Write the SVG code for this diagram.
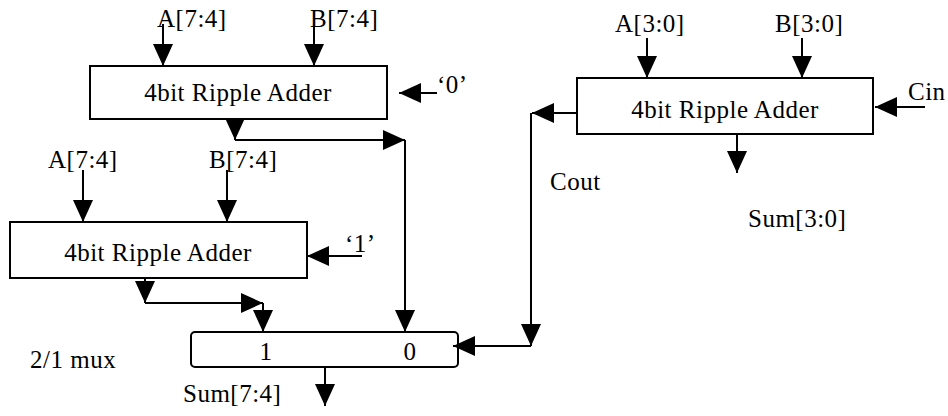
<svg xmlns="http://www.w3.org/2000/svg" width="948" height="416" viewBox="0 0 948 416">
<style>
text{font-family:"Liberation Serif","Times New Roman",serif;font-size:25px;letter-spacing:0.5px;fill:#000}
.box{fill:#fff;stroke:#000;stroke-width:2}
.c{text-anchor:middle}
.w{fill:none;stroke:#000;stroke-width:2}
</style>
<defs>
<marker id="ah" markerUnits="userSpaceOnUse" markerWidth="22" markerHeight="20" refX="22" refY="10" orient="auto" viewBox="0 0 22 20">
<path d="M0,0 L22,10 L0,20 z" fill="#000"/>
</marker>
</defs>
<rect width="948" height="416" fill="#fff"/>
<g id="adder-hi0">
<rect class="box" x="90" y="66" width="297" height="53"/>
<text class="c" x="238" y="101">4bit Ripple Adder</text>
</g>
<g id="adder-hi1">
<rect class="box" x="10" y="222" width="297" height="56"/>
<text class="c" x="158" y="261">4bit Ripple Adder</text>
</g>
<g id="adder-lo">
<rect class="box" x="577" y="78" width="296" height="56"/>
<text class="c" x="725" y="118">4bit Ripple Adder</text>
</g>
<g id="mux">
<rect class="box" x="191" y="332" width="267" height="35" rx="4"/>
<text class="c" x="266" y="360">1</text>
<text class="c" x="410" y="360">0</text>
</g>
<g id="labels">
<text x="157" y="27">A[7:4]</text>
<text x="310" y="27">B[7:4]</text>
<text x="437" y="93">‘0’</text>
<text x="48" y="168">A[7:4]</text>
<text x="209" y="168">B[7:4]</text>
<text x="345" y="252">‘1’</text>
<text x="615" y="32">A[3:0]</text>
<text x="775" y="32">B[3:0]</text>
<text x="908" y="100">Cin</text>
<text x="550" y="190">Cout</text>
<text x="748" y="227">Sum[3:0]</text>
<text x="30" y="368">2/1 mux</text>
<text x="183" y="402">Sum[7:4]</text>
</g>
<g id="connectors" class="w">
<path class="w" d="M163,24 V66" marker-end="url(#ah)"/>
<path class="w" d="M314,24 V66" marker-end="url(#ah)"/>
<path class="w" d="M437,93 H399" marker-end="url(#ah)"/>
<path class="w" d="M235,119 V140" marker-end="url(#ah)"/>
<path class="w" d="M235,140 H405" marker-end="url(#ah)"/>
<path class="w" d="M405,140 V332" marker-end="url(#ah)"/>
<path class="w" d="M83,170 V222" marker-end="url(#ah)"/>
<path class="w" d="M227,170 V222" marker-end="url(#ah)"/>
<path class="w" d="M362,256 H307" marker-end="url(#ah)"/>
<path class="w" d="M145,278 V303" marker-end="url(#ah)"/>
<path class="w" d="M145,303 H263" marker-end="url(#ah)"/>
<path class="w" d="M263,303 V332" marker-end="url(#ah)"/>
<path class="w" d="M325,367 V406" marker-end="url(#ah)"/>
<path class="w" d="M647,38 V78" marker-end="url(#ah)"/>
<path class="w" d="M802,38 V78" marker-end="url(#ah)"/>
<path class="w" d="M925,107 H875" marker-end="url(#ah)"/>
<path class="w" d="M577,113 H532" marker-end="url(#ah)"/>
<path class="w" d="M531,113 V346" marker-end="url(#ah)"/>
<path class="w" d="M531,346 H453" marker-end="url(#ah)"/>
<path class="w" d="M737,134 V173" marker-end="url(#ah)"/>
</g>
</svg>
